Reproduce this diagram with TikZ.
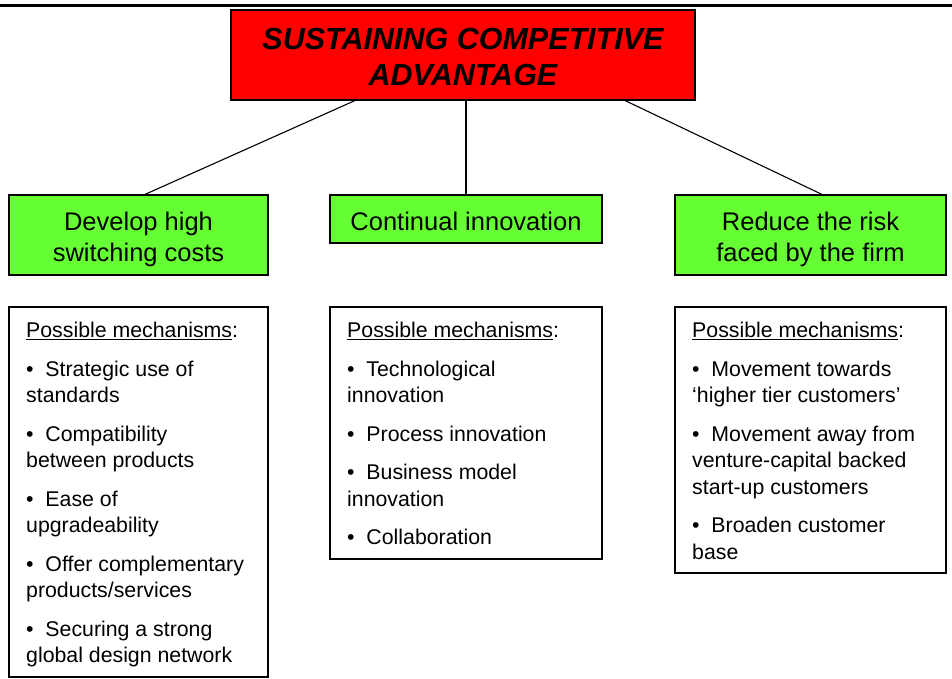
\documentclass[tikz,border=0pt]{standalone}
\usepackage{fontspec}
\setmainfont{Liberation Sans}
\usetikzlibrary{calc}
\definecolor{titlered}{RGB}{255,0,0}
\definecolor{boxgreen}{RGB}{102,255,51}
\begin{document}
\begin{tikzpicture}[x=1pt,y=-1pt,
  titlebox/.style={draw=black, line width=1.5pt, fill=titlered, minimum width=464pt, minimum height=90pt, inner sep=0pt},
  titletext/.style={align=center, inner sep=0pt, font=\fontsize{30.5}{36}\selectfont\bfseries\itshape},
  goalbox/.style={draw=black, line width=1.2pt, fill=boxgreen, inner sep=0pt},
  goaltext/.style={align=center, inner sep=0pt, font=\fontsize{25.5}{31}\selectfont},
  mechbox/.style={draw=black, line width=1.2pt, fill=white, inner sep=0pt},
  mechtext/.style={align=left, inner sep=0pt, anchor=north west, font=\fontsize{21.3}{26.5}\selectfont},
  link/.style={draw=black, line width=1.1pt},
  toprule/.style={draw=black, line width=3pt}]
\useasboundingbox (0,0) rectangle (952,679);
\coordinate (rl) at (0,5.5);
\coordinate (rr) at (952,5.5);
\draw[toprule] (rl) -- (rr);

\node[titlebox] (title) at (463,55) {};
\node[titletext] (titlet) at ($(title.center)+(0,1.5)$) {SUSTAINING COMPETITIVE\\ADVANTAGE};

\node[goalbox, minimum width=259pt, minimum height=80pt] (g1) at (138.5,235) {};
\node[goalbox, minimum width=272pt, minimum height=48pt] (g2) at (466,219) {};
\node[goalbox, minimum width=271pt, minimum height=80pt] (g3) at (810.5,235) {};
\node[goaltext] (g1t) at ($(g1.center)+(0,4)$) {Develop high\\switching costs};
\node[goaltext] (g2t) at ($(g2.center)+(0,2)$) {Continual innovation};
\node[goaltext] (g3t) at ($(g3.center)+(0,4)$) {Reduce the risk\\faced by the firm};

\node[mechbox, minimum width=259pt, minimum height=370pt] (m1) at (138.5,492) {};
\node[mechbox, minimum width=272pt, minimum height=252pt] (m2) at (466,433) {};
\node[mechbox, minimum width=271pt, minimum height=266pt] (m3) at (810.5,440) {};

\node[mechtext] (t1) at (26,322) {\underline{Possible mechanisms}:\\[12pt]
\textbullet\ \ Strategic use of\\ standards\\[12pt]
\textbullet\ \ Compatibility\\ between products\\[12pt]
\textbullet\ \ Ease of\\ upgradeability\\[12pt]
\textbullet\ \ Offer complementary\\ products/services\\[12pt]
\textbullet\ \ Securing a strong\\ global design network};

\node[mechtext] (t2) at (347,322) {\underline{Possible mechanisms}:\\[12pt]
\textbullet\ \ Technological\\ innovation\\[12pt]
\textbullet\ \ Process innovation\\[12pt]
\textbullet\ \ Business model\\ innovation\\[12pt]
\textbullet\ \ Collaboration};

\node[mechtext] (t3) at (692,322) {\underline{Possible mechanisms}:\\[12pt]
\textbullet\ \ Movement towards\\ ‘higher tier customers’\\[12pt]
\textbullet\ \ Movement away from\\ venture-capital backed\\ start-up customers\\[12pt]
\textbullet\ \ Broaden customer\\ base};

\draw[link] ($(title.south west)!0.267!(title.south east)$) -- ($(g1.north west)!0.525!(g1.north east)$);
\draw[link] (g2.north) -- (g2.north |- title.south);
\draw[link] ($(title.south west)!0.849!(title.south east)$) -- ($(g3.north west)!0.542!(g3.north east)$);
\end{tikzpicture}
\end{document}
